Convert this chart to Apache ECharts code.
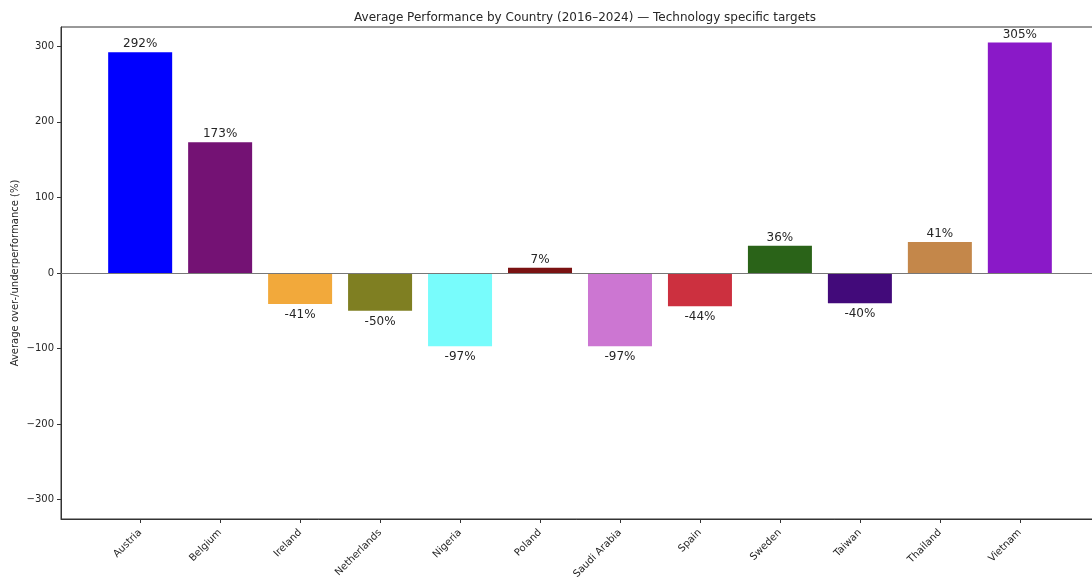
<!DOCTYPE html>
<html>
<head>
<meta charset="utf-8">
<title>Average Performance by Country</title>
<script src="https://cdn.jsdelivr.net/npm/echarts@6/dist/echarts.min.js"></script>
<style>
  html, body { margin: 0; padding: 0; background: #fff; }
  #chart { width: 1092px; height: 578px; }
</style>
</head>
<body>
<div id="chart"></div>
<script>
// Countries and their average over-/underperformance (%), 2016–2024
const countries = ['Austria', 'Belgium', 'Ireland', 'Netherlands', 'Nigeria', 'Poland',
  'Saudi Arabia', 'Spain', 'Sweden', 'Taiwan', 'Thailand', 'Vietnam'];
const performance = [292, 173, -41, -50, -97, 7, -97, -44, 36, -40, 41, 305];
const barColors = ['#0000ff', '#741274', '#f2a93b', '#7f7f22', '#78fcfc', '#7a1212',
  '#cc76d2', '#cc303f', '#2a6318', '#420a7a', '#c4874a', '#8a19c8'];
const yTicks = [-300, -200, -100, 0, 100, 200, 300];

const FONT = 'DejaVu Sans';
const TEXT = '#262626';

const chart = echarts.init(document.getElementById('chart'), null, { renderer: 'canvas' });

const idx = countries.map((_, i) => i);

chart.setOption({
  animation: false,
  backgroundColor: '#fff',
  textStyle: { fontFamily: FONT },
  title: {
    text: 'Average Performance by Country (2016\u20132024) \u2014 Technology specific targets',
    left: 580,
    top: 7,
    textAlign: 'center',
    textStyle: { fontFamily: FONT, fontSize: 12, fontWeight: 'normal', color: TEXT }
  },
  grid: {
    left: 61,
    top: 27,
    width: 1038,
    height: 492,
    show: true,
    borderColor: '#333',
    borderWidth: 1,
    containLabel: false,
    outerBoundsMode: 'none'
  },
  xAxis: {
    type: 'value',
    min: -0.99,
    max: 11.99,
    splitLine: { show: false },
    axisLine: { show: true, onZero: false, lineStyle: { color: '#333', width: 1 } },
    axisTick: { show: true, customValues: idx, length: 4, lineStyle: { color: '#333' } },
    axisLabel: {
      customValues: idx,
      rotate: 45,
      margin: 12,
      fontSize: 10,
      fontFamily: FONT,
      color: TEXT,
      formatter: v => countries[Math.round(v)]
    }
  },
  yAxis: {
    type: 'value',
    min: -325.5,
    max: 325.5,
    name: 'Average over-/underperformance (%)',
    nameLocation: 'middle',
    nameRotate: 90,
    nameGap: 41,
    nameMoveOverlap: false,
    nameTextStyle: { fontFamily: FONT, fontSize: 10, color: TEXT },
    splitLine: { show: false },
    axisLine: { show: true, onZero: false, lineStyle: { color: '#333', width: 1 } },
    axisTick: { show: true, customValues: yTicks, length: 4, lineStyle: { color: '#333' } },
    axisLabel: {
      customValues: yTicks,
      margin: 7,
      fontSize: 10,
      fontFamily: FONT,
      color: TEXT,
      formatter: v => (v < 0 ? '\u2212' + Math.abs(v) : String(v))
    }
  },
  series: [{
    type: 'bar',
    barWidth: 64,
    data: performance.map((v, i) => ({
      value: [i, v],
      itemStyle: { color: barColors[i] },
      label: { position: v >= 0 ? 'top' : 'bottom', distance: v >= 0 ? 2 : 5 }
    })),
    label: {
      show: true,
      fontFamily: FONT,
      fontSize: 12,
      color: TEXT,
      formatter: p => p.value[1] + '%'
    },
    markLine: {
      silent: true,
      symbol: ['none', 'none'],
      label: { show: false },
      lineStyle: { color: '#777', width: 1, type: 'solid' },
      data: [{ yAxis: 0 }]
    }
  }]
});
</script>
</body>
</html>
